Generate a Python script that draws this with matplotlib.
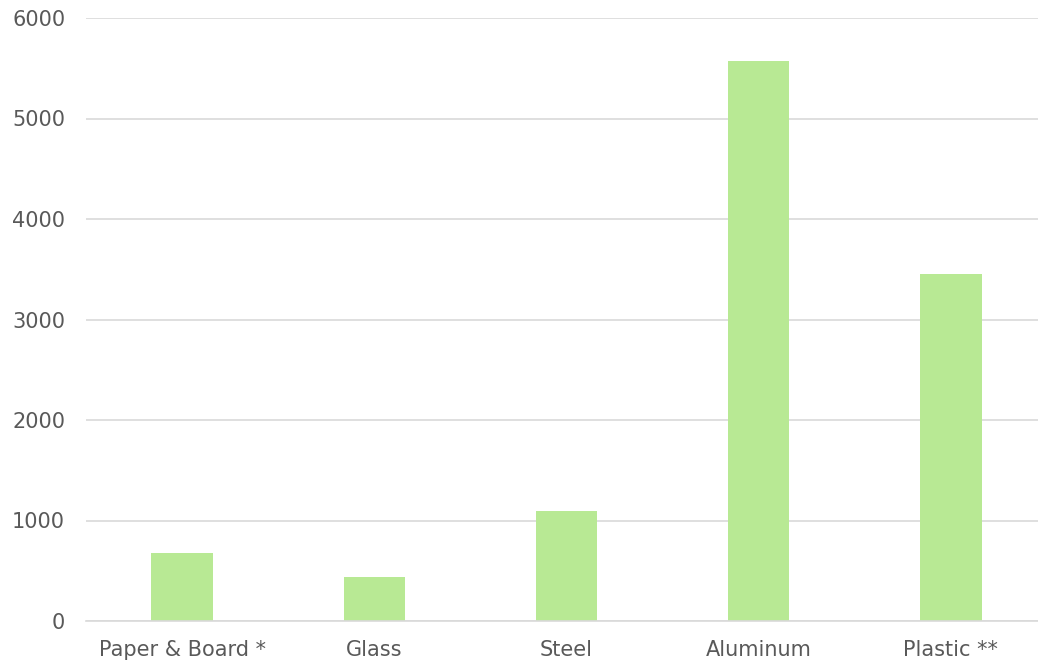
import matplotlib
matplotlib.use("Agg")
import matplotlib.pyplot as plt

categories = ["Paper & Board *", "Glass", "Steel", "Aluminum", "Plastic **"]
values = [676, 438, 1095, 5572, 3453]
yticks = [0, 1000, 2000, 3000, 4000, 5000, 6000]

plt.rcParams['font.family'] = ['DejaVu Sans']
fig = plt.figure(figsize=(10.38, 6.66), dpi=100)
ax = fig.add_axes([86/1038, 45/666, 961/1038, 603/666])
ax.bar(range(len(categories)), values, width=0.32, color="#b8e994", zorder=2)
ax.set_xlim(-0.5, len(categories) - 0.5)
ax.set_ylim(0, 6000)
ax.set_yticks(yticks)
ax.set_yticklabels([str(v) for v in yticks])
ax.set_xticks(range(len(categories)))
ax.set_xticklabels(categories)
ax.grid(axis="y", color="#d9d9d9", linewidth=1.2, zorder=0)
for s in ["top", "right", "left"]:
    ax.spines[s].set_visible(False)
ax.spines["bottom"].set_color("#d9d9d9")
ax.spines["bottom"].set_linewidth(1.2)
ax.tick_params(axis="both", length=0, labelsize=15, colors="#595959")
ax.tick_params(axis="y", pad=15)
ax.tick_params(axis="x", pad=14)
fig.savefig("out.png", dpi=100)
